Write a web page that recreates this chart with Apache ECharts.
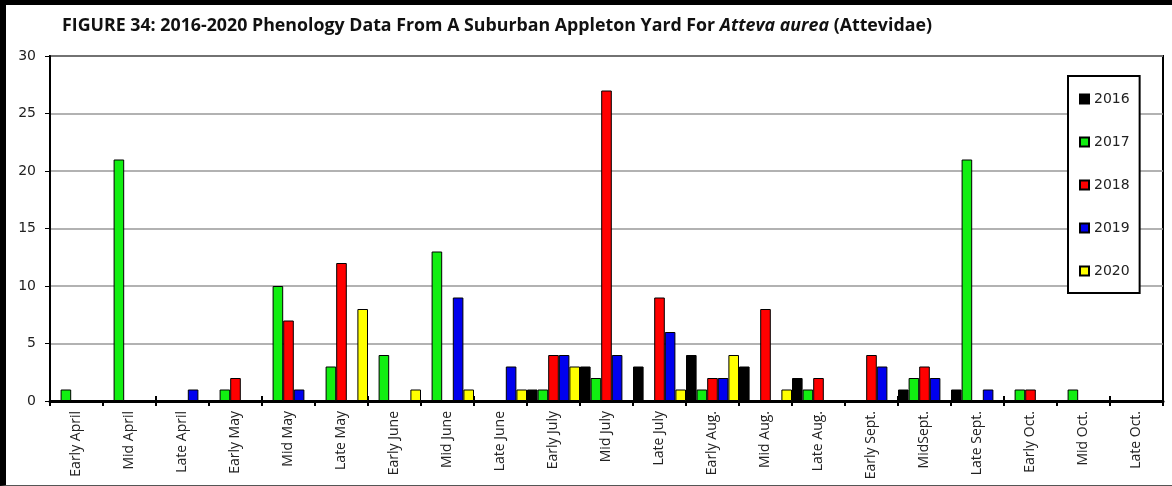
<!DOCTYPE html>
<html>
<head>
<meta charset="utf-8">
<script src="https://cdn.jsdelivr.net/npm/echarts@6/dist/echarts.min.js"></script>
<style>
  html, body { margin: 0; padding: 0; background: #fff; }
  #chart {
    position: absolute; left: 0; top: 0;
    width: 1172px; height: 486px;
    box-sizing: border-box;
    border-top: 5px solid #000;
    border-left: 6px solid #000;
    border-bottom: 1px solid #555;
  }
</style>
</head>
<body>
<div id="chart"></div>
<script>
// periods on the x axis
const periods = ['Early April', 'Mid April', 'Late April', 'Early May', 'Mid May', 'Late May',
  'Early June', 'Mid June', 'Late June', 'Early July', 'Mid July', 'Late July',
  'Early Aug.', 'Mid Aug.', 'Late Aug.', 'Early Sept.', 'MidSept.', 'Late Sept.',
  'Early Oct.', 'Mid Oct.', 'Late Oct.'];

// counts per year
const y2016 = [0, 0, 0, 0, 0, 0, 0, 0, 0, 1, 3, 3, 4, 3, 2, 0, 1, 1, 0, 0, 0];
const y2017 = [1, 21, 0, 1, 10, 3, 4, 13, 0, 1, 2, 0, 1, 0, 1, 0, 2, 21, 1, 1, 0];
const y2018 = [0, 0, 0, 2, 7, 12, 0, 0, 0, 4, 27, 9, 2, 8, 2, 4, 3, 0, 1, 0, 0];
const y2019 = [0, 0, 1, 0, 1, 0, 0, 9, 3, 4, 4, 6, 2, 0, 0, 3, 2, 1, 0, 0, 0];
const y2020 = [0, 0, 0, 0, 0, 8, 1, 1, 1, 3, 0, 1, 4, 1, 0, 0, 0, 0, 0, 0, 0];

const years = ['2016', '2017', '2018', '2019', '2020'];
const yearData = [y2016, y2017, y2018, y2019, y2020];
const colors = ['#000000', '#11ee11', '#ff0000', '#0000ee', '#ffff00'];

const yTicks = [0, 5, 10, 15, 20, 25, 30];

const chart = echarts.init(document.getElementById('chart'));

chart.setOption({
  animation: false,
  title: {
    text: 'FIGURE 34: 2016-2020 Phenology Data From A Suburban Appleton Yard For {i|Atteva aurea} (Attevidae)',
    left: 51,
    top: 7,
    textStyle: {
      fontFamily: 'Open Sans',
      fontSize: 17.8,
      fontWeight: 'bold',
      color: '#111',
      rich: {
        i: { fontFamily: 'Open Sans', fontSize: 17.8, fontWeight: 'bold', fontStyle: 'italic', color: '#111' }
      }
    }
  },
  legend: {
    orient: 'vertical',
    left: 1062,
    top: 71,
    padding: [16, 10, 15, 11],
    itemGap: 29,
    itemWidth: 9,
    itemHeight: 9,
    icon: 'rect',
    backgroundColor: '#fff',
    borderColor: '#000',
    borderWidth: 2,
    textStyle: { fontFamily: 'DejaVu Sans', fontSize: 14, color: '#222' },
    data: years
  },
  grid: {
    left: 44,
    right: 9,
    top: 51,
    bottom: 84,
    show: true,
    borderColor: '#000',
    borderWidth: 2,
    backgroundColor: '#fff'
  },
  xAxis: [
    {
      type: 'category',
      data: periods,
      axisLine: { lineStyle: { color: '#000', width: 3 } },
      axisTick: { show: true, length: 5, lineStyle: { color: '#000', width: 2 } },
      axisLabel: {
        rotate: 90,
        margin: 10,
        fontFamily: 'Open Sans',
        fontSize: 14,
        color: '#222'
      }
    },
    {
      type: 'category',
      data: periods,
      position: 'bottom',
      axisLine: { show: false },
      axisTick: { show: true, inside: true, length: 5, lineStyle: { color: '#000', width: 2 } },
      axisLabel: { show: false }
    }
  ],
  yAxis: {
    type: 'value',
    min: yTicks[0],
    max: yTicks[yTicks.length - 1],
    interval: 5,
    axisLine: { show: true, lineStyle: { color: '#000', width: 2 } },
    axisTick: { show: true, length: 5, lineStyle: { color: '#000', width: 1 } },
    axisLabel: { fontFamily: 'DejaVu Sans', fontSize: 14, color: '#222', margin: 14 },
    splitLine: { lineStyle: { color: '#999', width: 1.5 } }
  },
  series: years.map((name, i) => ({
    name: name,
    type: 'bar',
    xAxisIndex: 0,
    barGap: '0%',
    barCategoryGap: '0%',
    itemStyle: { color: colors[i], borderColor: '#000', borderWidth: 1 },
    data: yearData[i].map(v => (v === 0 ? null : v))
  }))
});

window.addEventListener('resize', function () {
  chart.resize();
});
</script>
</body>
</html>
